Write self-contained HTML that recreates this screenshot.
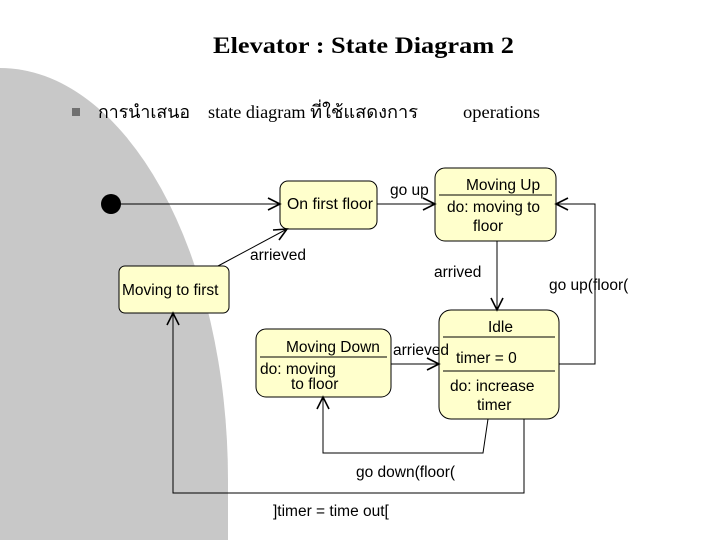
<!DOCTYPE html>
<html><head><meta charset="utf-8"><style>
body{margin:0;width:720px;height:540px;background:#fff;overflow:hidden;position:relative;font-family:"Liberation Sans",sans-serif}
svg{position:absolute;left:0;top:0}
.t{font-family:"Liberation Sans",sans-serif;font-size:15.5px;fill:#000}
</style></head><body>
<svg width="720" height="540" viewBox="0 0 720 540">
<path d="M0,68 A228,412 0 0 1 228,480 L228,540 L0,540 Z" fill="#c8c8c8"/>
<text x="213" y="53" textLength="301" lengthAdjust="spacingAndGlyphs" font-family="Liberation Serif,serif" font-size="23" font-weight="bold">Elevator : State Diagram 2</text>
<rect x="72" y="108" width="8" height="8" fill="#707070"/>
<text x="98" y="118" textLength="92" lengthAdjust="spacingAndGlyphs" font-family="Liberation Serif,'Noto Serif CJK SC',serif" font-size="18">การนำเสนอ</text>
<text x="208" y="118" textLength="210" lengthAdjust="spacingAndGlyphs" font-family="Liberation Serif,serif" font-size="18">state diagram ที่ใช้แสดงการ</text>
<text x="463" y="118" textLength="77" lengthAdjust="spacingAndGlyphs" font-family="Liberation Serif,serif" font-size="18">operations</text>
<g fill="#ffffcc" stroke="#000" stroke-width="1">
<rect x="280" y="181" width="97" height="48" rx="8"/>
<rect x="435" y="168" width="121" height="73" rx="10"/>
<rect x="439" y="310" width="120" height="109" rx="12"/>
<rect x="256" y="329" width="135" height="68" rx="10"/>
<rect x="119" y="266" width="110" height="47" rx="6"/>
</g>
<g stroke="#000" fill="none" stroke-width="1">
<line x1="439" y1="195" x2="552" y2="195"/>
<line x1="443" y1="337" x2="555" y2="337"/>
<line x1="443" y1="371" x2="555" y2="371"/>
<line x1="260" y1="357" x2="387" y2="357"/>
<line x1="111" y1="204" x2="280" y2="204"/>
<line x1="377" y1="204" x2="435" y2="204"/>
<polyline points="559,364 595,364 595,204 556,204"/>
<line x1="497" y1="241" x2="497" y2="310"/>
<line x1="391" y1="364" x2="439" y2="364"/>
<polyline points="488,419 483,453 323,453 323,397"/>
<polyline points="524,419 524,493 173,493 173,313"/>
<line x1="218" y1="266" x2="287" y2="229"/>
<g stroke-width="1.6">
<polyline points="268,198 280,204 268,210"/>
<polyline points="423,198 435,204 423,210"/>
<polyline points="568,198 556,204 568,210"/>
<polyline points="491,298 497,310 503,298"/>
<polyline points="427,358 439,364 427,370"/>
<polyline points="317,409 323,397 329,409"/>
<polyline points="167,325 173,313 179,325"/>
<polyline points="273,230 287,229 279,240"/>
</g>
</g>
<circle cx="111" cy="204" r="10" fill="#000"/>
<text class="t" x="287" y="209" textLength="86" lengthAdjust="spacingAndGlyphs">On first floor</text>
<text class="t" x="466" y="190">Moving Up</text>
<text class="t" x="447" y="212">do: moving to</text>
<text class="t" x="473" y="231">floor</text>
<text class="t" x="488" y="332">Idle</text>
<text class="t" x="456" y="363">timer = 0</text>
<text class="t" x="450" y="391">do: increase</text>
<text class="t" x="477" y="410">timer</text>
<text class="t" x="286" y="352">Moving Down</text>
<text class="t" x="260" y="374">do: moving</text>
<text class="t" x="291" y="389">to  floor</text>
<text class="t" x="122" y="295">Moving to first</text>
<text class="t" x="390" y="195">go up</text>
<text class="t" x="250" y="260">arrieved</text>
<text class="t" x="434" y="277">arrived</text>
<text class="t" x="549" y="290">go up(floor(</text>
<text class="t" x="393" y="355">arrieved</text>
<text class="t" x="356" y="477">go down(floor(</text>
<text class="t" x="273" y="516">]timer = time  out[</text>
</svg>
</body></html>
